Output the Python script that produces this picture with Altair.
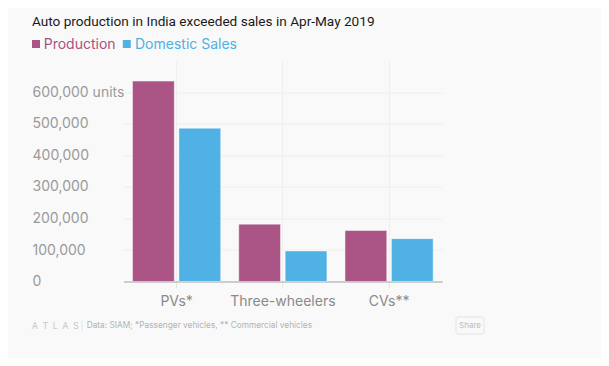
import altair as alt
import pandas as pd

# ---- data ----
categories = ["PVs*", "Three-wheelers", "CVs**"]
series = ["Production", "Domestic Sales"]
production = [635000, 182000, 162000]
domestic_sales = [486000, 97000, 136000]
y_ticks = [0, 100000, 200000, 300000, 400000, 500000, 600000]
colors = ["#AA5585", "#50B1E4"]

title_text = "Auto production in India exceeded sales in Apr-May 2019"
footer_logo = "A\u2002T\u2002L\u2002A\u2002S"
footer_text = "Data: SIAM; *Passenger vehicles, ** Commercial vehicles"

rows = []
for c, p, s in zip(categories, production, domestic_sales):
    rows.append({"category": c, "series": series[0], "units": p})
    rows.append({"category": c, "series": series[1], "units": s})
df = pd.DataFrame(rows)

FONT = "Inter"
W, H = 439, 221

bars = alt.Chart(df).mark_bar(stroke="white", strokeOpacity=0.45, strokeWidth=1).encode(
    x=alt.X(
        "category:N",
        sort=categories,
        title=None,
        scale=alt.Scale(range=[81.5, 400.2], paddingInner=0.17, paddingOuter=0.085),
        axis=alt.Axis(
            labelAngle=0,
            labelFont=FONT,
            labelFontSize=14,
            labelColor="#8a8a8a",
            labelPadding=7,
            domainColor="#cccccc",
            domainWidth=2,
            tickColor="#e6e6e6",
            tickSize=6,
            grid=True,
            gridColor="#efefef",
            gridWidth=1,
        ),
    ),
    xOffset=alt.XOffset("series:N", sort=series, scale=alt.Scale(paddingInner=0.1, paddingOuter=0)),
    y=alt.Y(
        "units:Q",
        title=None,
        scale=alt.Scale(domain=[0, 700000], nice=False),
        axis=alt.Axis(
            values=y_ticks,
            format=",d",
            labelExpr="datum.value == 600000 ? datum.label + ' units' : datum.label",
            labelAlign="left",
            labelBaseline="middle",
            labelPadding=10,
            labelFont=FONT,
            labelFontSize=14,
            labelColor="#9a9a9a",
            ticks=False,
            tickSize=0,
            domain=False,
            grid=True,
            gridColor="#eeeeee",
            gridWidth=1,
        ),
    ),
    color=alt.Color("series:N", sort=series, scale=alt.Scale(domain=series, range=colors), legend=None),
)


def text_layer(txt, x, y, size, color, align="left", baseline="alphabetic", weight="normal", font=FONT):
    return alt.Chart(pd.DataFrame({"t": [txt]})).mark_text(
        align=align, baseline=baseline, font=font, fontSize=size, color=color, fontWeight=weight
    ).encode(text="t:N", x=alt.value(x), y=alt.value(y))


def square_layer(color, x, y):
    return alt.Chart(pd.DataFrame({"t": [0]})).mark_square(
        size=64, color=color, opacity=1, filled=True
    ).encode(x=alt.value(x), y=alt.value(y))


title = text_layer(title_text, -10, -34.2, 13.6, "#1a1a1a", font="Roboto")
leg1_sq = square_layer(colors[0], -6, -16.6)
leg1_tx = text_layer(series[0], 1.7, -11.3, 14, "#A8527F")
leg2_sq = square_layer(colors[1], 84.8, -16.6)
leg2_tx = text_layer(series[1], 93, -11.3, 14, "#4FB0E3")

logo = text_layer(footer_logo, -10.3, 268.4, 9, "#c8c8c8")
sep = text_layer("|", 38.5, 268.6, 9, "#dddddd")
foot = text_layer(footer_text, 44.7, 267.7, 8.3, "#b3b3b3")

share_box = alt.Chart(pd.DataFrame({"t": [0]})).mark_rect(
    fill="#f9f9f9", stroke="#e3e3e3", strokeWidth=1, cornerRadius=2
).encode(x=alt.value(414), x2=alt.value(442), y=alt.value(256.4), y2=alt.value(273.4))
share_tx = text_layer("Share", 428, 265, 8, "#bbbbbb", align="center", baseline="middle")

chart = alt.layer(
    bars, title, leg1_sq, leg1_tx, leg2_sq, leg2_tx, logo, sep, foot, share_box, share_tx
).properties(
    width=W,
    height=H,
    autosize="none",
    padding={"left": 34, "top": 52.6, "right": 120, "bottom": 76.4},
    background="#F9F9F9",
).configure_view(stroke=None)

chart.save("out.html", embed_options={"renderer": "svg", "actions": False})
